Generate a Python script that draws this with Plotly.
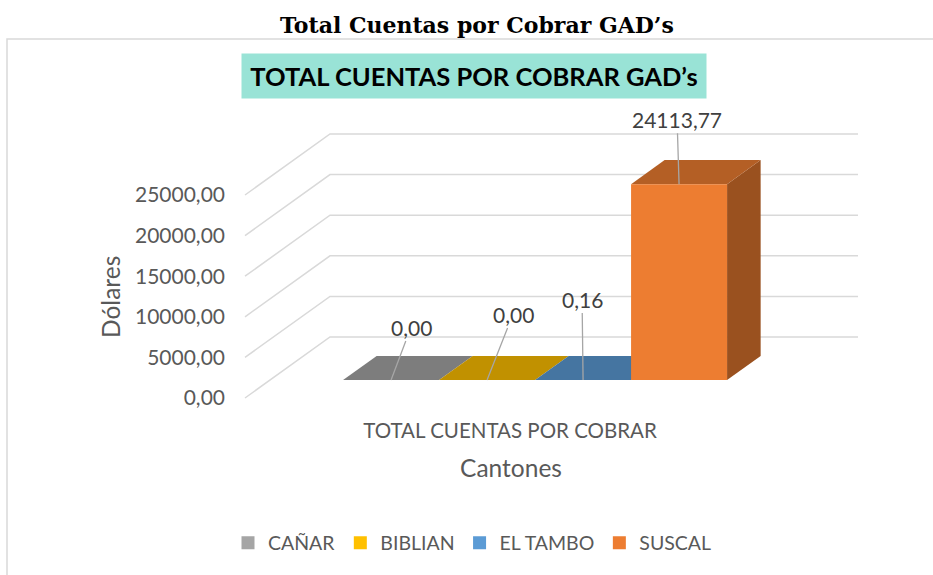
import plotly.graph_objects as go

# ---- data -------------------------------------------------------------
categoria = ["TOTAL CUENTAS POR COBRAR"]
cantones = ["CAÑAR", "BIBLIAN", "EL TAMBO", "SUSCAL"]
valores = [0.00, 0.00, 0.16, 24113.77]
colores = ["#A5A5A5", "#FFC000", "#5B9BD5", "#ED7D31"]
y_ticks = [0, 5000, 10000, 15000, 20000, 25000]

# ---- layout / oblique projection constants ----------------------------
W, H = 933, 575
Y0_PX = 398                    # pixel row of value 0 on the front plane
DOLLARS_PER_PX = 5000 / 40.6
X0_PX = 510                    # pixel column of the category centre (front plane)
PX_PER_BAR = 96                # one bar width in pixels
DEPTH_DX = 85 / PX_PER_BAR     # x-shift across the full depth (x units)
DEPTH_DY = 61 * DOLLARS_PER_PX # y-shift across the full depth (dollars)
BAR_D0, BAR_D1 = 0.295, 0.69   # front / back depth of the bar row
GRID_X0 = (245 - X0_PX) / PX_PER_BAR
GRID_X1 = (858 - X0_PX) / PX_PER_BAR
XDOM_PX = 89                   # left edge of the x-axis domain (centres its title)

GRID_COLOR = "#D9D9D9"
TEXT_COLOR = "#595959"
FONT = "Lato"


def fmt(v):
    return f"{v:.2f}".replace(".", ",")


def proj(x, v, d):
    return x + d * DEPTH_DX, v + d * DEPTH_DY


def shade(hex_color, k):
    h = hex_color.lstrip("#")
    r, g, b = (int(h[i:i + 2], 16) for i in (0, 2, 4))
    return "#%02X%02X%02X" % (int(r * k), int(g * k), int(b * k))


fig = go.Figure()

# oblique gridlines: front edge -> back wall -> across the back wall
for t in y_ticks:
    bx, by = proj(GRID_X0, t, 1.0)
    fig.add_trace(go.Scatter(
        x=[GRID_X0, bx, GRID_X1], y=[t, by, by], mode="lines",
        line=dict(color=GRID_COLOR, width=1.5),
        showlegend=False, hoverinfo="skip"))

# 3D bars (side, top, front faces)
n = len(valores)
label_pts = []
for i, (name, v, c) in enumerate(zip(cantones, valores, colores)):
    x0 = i - n / 2
    x1 = x0 + 1
    f0 = [proj(x0, 0, BAR_D0), proj(x1, 0, BAR_D0), proj(x1, v, BAR_D0), proj(x0, v, BAR_D0)]
    top = [proj(x0, v, BAR_D0), proj(x1, v, BAR_D0), proj(x1, v, BAR_D1), proj(x0, v, BAR_D1)]
    side = [proj(x1, 0, BAR_D0), proj(x1, 0, BAR_D1), proj(x1, v, BAR_D1), proj(x1, v, BAR_D0)]
    for pts, col in ((side, shade(c, 0.65)), (top, shade(c, 0.76)), (f0, c)):
        xs = [p[0] for p in pts] + [pts[0][0]]
        ys = [p[1] for p in pts] + [pts[0][1]]
        fig.add_trace(go.Scatter(
            x=xs, y=ys, mode="lines", fill="toself", fillcolor=col,
            line=dict(width=0, color=col), showlegend=False,
            hovertemplate=f"{name}: {fmt(v)}<extra></extra>"))
    label_pts.append(proj(x0 + 0.5, v, BAR_D0))

# legend entries
for name, c in zip(cantones, colores):
    fig.add_trace(go.Scatter(
        x=[None], y=[None], mode="markers", name=name,
        marker=dict(symbol="square", size=13, color=c)))

# data labels with leader lines
label_offsets = [(20, -53), (26, -66), (-1, -81), (-2, -65)]
annotations = []
for (px_, py_), v, (ax, ay) in zip(label_pts, valores, label_offsets):
    annotations.append(dict(
        x=px_, y=py_, xref="x", yref="y", text=fmt(v),
        showarrow=True, arrowhead=0, arrowwidth=1.3, arrowcolor="#A6A6A6",
        ax=ax, ay=ay, standoff=0,
        font=dict(family=FONT, size=21, color="#404040")))

# outer heading and boxed chart title
annotations.append(dict(
    x=477 / W, y=1 - 25 / H, xref="paper", yref="paper", showarrow=False,
    xanchor="center", yanchor="middle",
    text="<b>Total Cuentas por Cobrar GAD’s</b>",
    font=dict(family="DejaVu Serif", size=22, color="#000000")))
annotations.append(dict(
    x=474 / W, y=1 - 76 / H, xref="paper", yref="paper", showarrow=False,
    xanchor="center", yanchor="middle",
    text="<b>TOTAL CUENTAS POR COBRAR GAD’s</b>", bgcolor="#99E3D6",
    width=464, height=44, borderpad=0,
    font=dict(family=FONT, size=25.5, color="#000000")))
# value-axis title
annotations.append(dict(
    x=110 / W, y=1 - 297 / H, xref="paper", yref="paper", showarrow=False,
    xanchor="center", yanchor="middle", textangle=-90, text="Dólares",
    font=dict(family=FONT, size=24.5, color=TEXT_COLOR)))

# chart frame
shapes = [dict(type="rect", xref="paper", yref="paper",
               x0=7 / W, y0=-0.05, x1=1.05, y1=1 - 39 / H,
               line=dict(color=GRID_COLOR, width=1.5), layer="below")]

x_range = [(XDOM_PX - X0_PX) / PX_PER_BAR, (W - X0_PX) / PX_PER_BAR]
y_range = [-(H - Y0_PX) * DOLLARS_PER_PX, Y0_PX * DOLLARS_PER_PX]

fig.update_layout(
    width=W, height=H,
    margin=dict(l=0, r=0, t=0, b=0),
    paper_bgcolor="white", plot_bgcolor="white",
    hovermode="closest",
    font=dict(family=FONT, color=TEXT_COLOR),
    xaxis=dict(range=x_range, domain=[XDOM_PX / W, 1], anchor="free",
               position=(H - 416) / H,
               tickvals=[0], ticktext=categoria, ticks="",
               tickfont=dict(size=20.5, color=TEXT_COLOR),
               showgrid=False, zeroline=False, showline=False,
               automargin=False, fixedrange=True,
               title=dict(text="Cantones", standoff=19,
                          font=dict(size=24.5, color=TEXT_COLOR))),
    yaxis=dict(range=y_range, domain=[0, 1], anchor="free",
               position=225 / W,
               tickvals=y_ticks, ticktext=[fmt(t) for t in y_ticks], ticks="",
               tickfont=dict(size=21, color=TEXT_COLOR),
               showgrid=False, zeroline=False, showline=False,
               automargin=False, fixedrange=True),
    legend=dict(orientation="h", x=228 / W, xanchor="left",
                y=1 - 543 / H, yanchor="middle",
                font=dict(size=19.5, color=TEXT_COLOR),
                bgcolor="rgba(0,0,0,0)", itemclick=False, itemdoubleclick=False),
    annotations=annotations,
    shapes=shapes,
)

fig.write_html("out.html")
